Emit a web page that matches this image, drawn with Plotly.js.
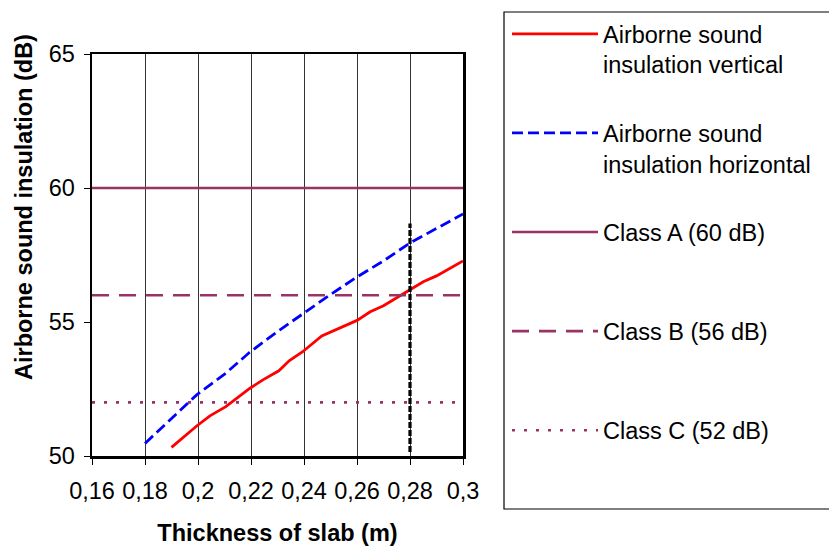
<!DOCTYPE html>
<html>
<head>
<meta charset="utf-8">
<script src="https://cdn.plot.ly/plotly-3.0.1.min.js"></script>
<style>html,body{margin:0;padding:0;background:#fff;}#chart{width:829px;height:546px;}</style>
</head>
<body>
<div id="chart"></div>
<script>
// Data
const verticalX = [0.190, 0.1995, 0.2045, 0.2105, 0.2195, 0.2245, 0.2305, 0.2345, 0.2395, 0.2467, 0.26, 0.265, 0.27, 0.28, 0.285, 0.29, 0.30];
const verticalY = [50.32, 51.12, 51.50, 51.84, 52.52, 52.84, 53.18, 53.56, 53.89, 54.48, 55.06, 55.38, 55.61, 56.21, 56.50, 56.72, 57.28];

const horizontalX = [0.18, 0.1895, 0.1995, 0.2105, 0.2195, 0.2308, 0.2397, 0.2498, 0.26, 0.27, 0.28, 0.285, 0.29, 0.30];
const horizontalY = [50.47, 51.37, 52.28, 53.09, 53.87, 54.70, 55.32, 56.01, 56.68, 57.28, 57.95, 58.22, 58.48, 59.03];

const classX = [0.16, 0.30];
const classA = [60, 60];
const classB = [56, 56];
const classC = [52, 52];

const markerX = [0.28, 0.28];
const markerY = [50.15, 58.68];

const xTickVals = [0.16, 0.18, 0.20, 0.22, 0.24, 0.26, 0.28, 0.30];
const xTickText = ['0,16', '0,18', '0,2', '0,22', '0,24', '0,26', '0,28', '0,3'];
const yTickVals = [50, 55, 60, 65];

const names = [
  'Airborne sound<br>insulation vertical',
  'Airborne sound<br>insulation horizontal',
  'Class A (60 dB)<br>\u00A0',
  'Class B (56 dB)<br>\u00A0',
  'Class C (52 dB)<br>\u00A0'
];
const xTitle = 'Thickness of slab (m)';
const yTitle = 'Airborne sound insulation (dB)';

const plum = '#993366';
const traces = [
  {x: verticalX, y: verticalY, name: names[0], legendgroup: 'g1', mode: 'lines',
   line: {color: '#FF0000', width: 2.8}},
  {x: horizontalX, y: horizontalY, name: names[1], legendgroup: 'g2', mode: 'lines',
   line: {color: '#0000FF', width: 2.8, dash: '11px,5px'}},
  {x: classX, y: classA, name: names[2], legendgroup: 'g3', mode: 'lines',
   line: {color: plum, width: 2.6}},
  {x: classX, y: classB, name: names[3], legendgroup: 'g4', mode: 'lines',
   line: {color: plum, width: 2.6, dash: '17px,10px'}},
  {x: classX, y: classC, name: names[4], legendgroup: 'g5', mode: 'lines',
   line: {color: plum, width: 2.6, dash: '3px,9px'}},
  {x: markerX, y: markerY, showlegend: false, mode: 'lines', hoverinfo: 'skip',
   line: {color: '#000000', width: 3.2, dash: '6px,2px'}}
];

const W = 829, H = 546;
const mL = 92, mR = W - 463, mT = 54, mB = H - 456;
const pw = W - mL - mR, ph = H - mT - mB;
const px = v => (v - mL) / pw;
const py = v => (H - mB - v) / ph;

const font = 'Arial, "Liberation Sans", sans-serif';

const layout = {
  width: W, height: H,
  margin: {l: mL, r: mR, t: mT, b: mB, pad: 0, autoexpand: false},
  paper_bgcolor: '#ffffff', plot_bgcolor: '#ffffff',
  font: {family: font, color: '#000000', size: 23.5},
  showlegend: true,
  xaxis: {
    range: [0.16, 0.30], tickmode: 'array', tickvals: xTickVals, ticktext: xTickText,
    showgrid: true, gridcolor: '#333333', gridwidth: 1,
    showline: true, linecolor: '#000000', linewidth: 2.5, mirror: true,
    ticks: 'outside', ticklen: 6, tickwidth: 1, tickcolor: '#000000',
    zeroline: false, tickfont: {size: 23.5}, ticklabelstandoff: 6,
    title: {text: '<b>' + xTitle + '</b>', font: {size: 23.5}, standoff: 30}
  },
  yaxis: {
    range: [50, 65], tickmode: 'array', tickvals: yTickVals,
    showgrid: false,
    showline: true, linecolor: '#000000', linewidth: 2.5, mirror: true,
    ticks: 'outside', ticklen: 6, tickwidth: 1, tickcolor: '#000000',
    zeroline: false, tickfont: {size: 23.5}, ticklabelstandoff: 4
  },
  annotations: [{
    text: '<b>' + yTitle + '</b>', textangle: -90, showarrow: false,
    xref: 'paper', yref: 'paper', x: px(24), y: py(207),
    xanchor: 'center', yanchor: 'middle', font: {size: 23.5, color: '#000000'}
  }],
  legend: {
    x: px(507), xanchor: 'left', y: py(12), yanchor: 'top',
    bgcolor: 'rgba(0,0,0,0)', borderwidth: 0,
    font: {size: 23.5, color: '#000000'},
    traceorder: 'grouped', tracegroupgap: 35, valign: 'top',
    itemwidth: 86, maxheight: 540
  },
  shapes: [{
    type: 'rect', xref: 'paper', yref: 'paper',
    x0: px(504), x1: px(832), y0: py(509), y1: py(12),
    line: {color: '#000000', width: 1.2}, fillcolor: 'rgba(0,0,0,0)', layer: 'below'
  }]
};

Plotly.newPlot('chart', traces, layout, {staticPlot: true});
</script>
</body>
</html>
